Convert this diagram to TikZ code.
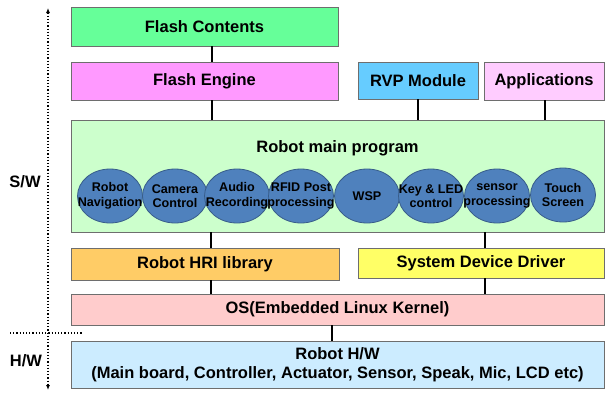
\documentclass[tikz,border=0pt]{standalone}
\usepackage{fontspec}
\setmainfont{Liberation Sans}
\usetikzlibrary{shapes.geometric,arrows.meta}

\definecolor{cContents}{RGB}{102,255,153}
\definecolor{cEngine}{RGB}{255,153,255}
\definecolor{cRVP}{RGB}{102,204,255}
\definecolor{cApps}{RGB}{255,204,255}
\definecolor{cMain}{RGB}{204,255,204}
\definecolor{cModule}{RGB}{79,129,189}
\definecolor{cModuleEdge}{RGB}{56,93,138}
\definecolor{cHRI}{RGB}{255,204,102}
\definecolor{cDriver}{RGB}{255,255,102}
\definecolor{cOS}{RGB}{255,204,204}
\definecolor{cHW}{RGB}{204,236,255}
\definecolor{cEdge}{RGB}{110,110,110}

\tikzset{
  layer/.style={draw=cEdge, line width=0.9pt, rectangle, inner sep=0pt,
    font=\fontsize{16.5}{19.5}\selectfont\bfseries, align=center},
  module/.style={draw=cModuleEdge, line width=0.8pt, fill=cModule, ellipse,
    minimum width=65pt, minimum height=54pt, inner sep=0pt},
  modtext/.style={align=center, inner sep=0pt,
    font=\fontsize{12.6}{14.5}\selectfont\bfseries},
  conn/.style={draw=black, line width=2pt},
  side/.style={font=\fontsize{16.5}{19.5}\selectfont\bfseries},
  axis/.style={draw=black, line width=1.2pt, dotted}
}

\begin{document}
\begin{tikzpicture}[x=1pt,y=-1pt]
  \useasboundingbox (0,0) rectangle (605,392);

  % software layers
  \node[layer, fill=cContents, minimum width=267pt, minimum height=39pt] (fc) at (204.5,26.5) {Flash Contents};
  \node[layer, fill=cEngine, minimum width=267pt, minimum height=38pt] (fe) at (204.5,81) {Flash Engine};
  \node[layer, fill=cRVP, minimum width=120pt, minimum height=37pt] (rvp) at (418,80.5) {RVP Module};
  \node[layer, fill=cApps, minimum width=120pt, minimum height=38pt] (app) at (544,81) {Applications};
  \node[layer, fill=cMain, minimum width=533pt, minimum height=112pt] (main) at (337.5,176) {};
  \node[font=\fontsize{16.5}{19.5}\selectfont\bfseries] (title) at (337.5,148) {Robot main program};

  % modules of the main program (fixed-size ellipses, text laid on top)
  \node[module, label={[modtext]center:Robot\\Navigation}] (m1) at (110,196) {};
  \node[module, label={[modtext]center:Camera\\Control}] (m2) at (175,196) {};
  \node[module, label={[modtext]center:Audio\\Recording}] (m3) at (237,196) {};
  \node[module, label={[modtext]center:RFID Post\\processing}] (m4) at (301,196) {};
  \node[module, label={[modtext]center:WSP}] (m5) at (367,196) {};
  \node[module, label={[modtext]center:Key \& LED\\control}] (m6) at (431,196) {};
  \node[module, label={[modtext]center:sensor\\processing}] (m7) at (497,196) {};
  \node[module, label={[modtext]center:Touch\\Screen}] (m8) at (563,195) {};

  \node[layer, fill=cHRI, minimum width=268pt, minimum height=32pt] (hri) at (205,264) {Robot HRI library};
  \node[layer, fill=cDriver, minimum width=246pt, minimum height=30pt] (sdd) at (481,263) {System Device Driver};
  \node[layer, fill=cOS, minimum width=533pt, minimum height=31pt] (os) at (337.5,309.5) {OS(Embedded Linux Kernel)};

  % hardware layer
  \node[layer, fill=cHW, minimum width=533pt, minimum height=47pt] (hw) at (337.5,364.5)
    {Robot H/W\\[0pt](Main board, Controller, Actuator, Sensor, Speak, Mic, LCD etc)};

  % connector columns
  \coordinate (xa) at (212,0);
  \coordinate (xb) at (418,0);
  \coordinate (xc) at (545,0);
  \coordinate (xd) at (211,0);
  \coordinate (xe) at (485,0);
  \coordinate (xf) at (332,0);

  \draw[conn] (fc.south -| xa) -- (fe.north -| xa);
  \draw[conn] (fe.south -| xa) -- (main.north -| xa);
  \draw[conn] (rvp.south -| xb) -- (main.north -| xb);
  \draw[conn] (app.south -| xc) -- (main.north -| xc);
  \draw[conn] (main.south -| xd) -- (hri.north -| xd);
  \draw[conn] (main.south -| xe) -- (sdd.north -| xe);
  \draw[conn] (hri.south -| xd) -- (os.north -| xd);
  \draw[conn] (sdd.south -| xe) -- (os.north -| xe);
  \draw[conn] (os.south -| xf) -- (hw.north -| xf);

  % S/W and H/W axis
  \coordinate (top) at (48,8);
  \coordinate (bot) at (48,390);
  \coordinate (sl) at (10,333);
  \coordinate (sr) at (82,333);
  \draw[axis, {Latex[length=5pt,width=4pt]}-{Latex[length=5pt,width=4pt]}] (top) -- (bot);
  \draw[axis] (sl) -- (sr);
  \node[side] (sw) at (25,182) {S/W};
  \node[side] (hwl) at (26,361) {H/W};
\end{tikzpicture}
\end{document}
